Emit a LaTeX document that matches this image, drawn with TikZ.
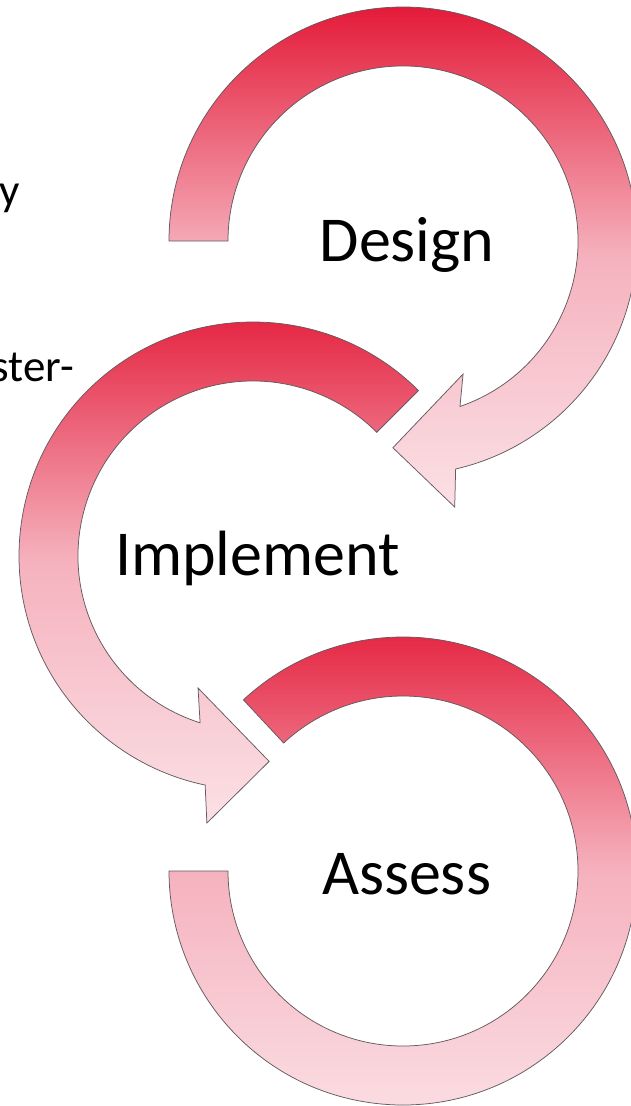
\documentclass[tikz,border=0pt]{standalone}
\usepackage{fontspec}
\setmainfont{Carlito}
\usetikzlibrary{calc}

% palette of the circular arrows
\definecolor{redtop}{RGB}{228,27,57}
\definecolor{pinkmid}{RGB}{245,178,190}
\definecolor{pinklow}{RGB}{251,224,229}
\definecolor{rim}{RGB}{100,90,95}

% vertical fade: dark red at the top of each band, pale pink at its foot
\pgfdeclareverticalshading{cyclefade}{100bp}{%
  color(0bp)=(pinklow); color(25bp)=(pinklow); color(50bp)=(pinkmid);
  color(75bp)=(redtop); color(100bp)=(redtop)}

\tikzset{
  band/.style={shade, shading=cyclefade, draw=rim, line width=0.75pt, line join=miter},
  stagelabel/.style={font=\fontsize{64}{70}\selectfont, inner sep=0pt, anchor=base},
  margintext/.style={font=\fontsize{45}{50}\selectfont, inner sep=0pt},
}

\begin{document}
\begin{tikzpicture}[x=1pt,y=1pt]
\useasboundingbox (0,0) rectangle (631,-1106);
\clip (0,0) rectangle (631,-1106);

% centres of the three rings
\coordinate (cD) at (403,-241);
\coordinate (cI) at (253,-556);
\coordinate (cA) at (403,-871);

% Design: clockwise from the left, head pointing down-left
\path[band] ($(cD)+(180:234pt)$) arc[start angle=180, end angle=-77, radius=234pt]
  -- ($(cD)+(-79:271pt)$) -- ($(cD)+(-92.8:207pt)$) -- ($(cD)+(-65.7:146pt)$)
  -- ($(cD)+(-71:175pt)$) arc[start angle=-71, end angle=180, radius=175pt] -- cycle;

% Implement: anticlockwise from the upper right, head pointing down-right
\path[band] ($(cI)+(45:234pt)$) arc[start angle=45, end angle=258.2, radius=234pt]
  -- ($(cI)+(260.2:271pt)$) -- ($(cI)+(274.5:206pt)$) -- ($(cI)+(247.4:143pt)$)
  -- ($(cI)+(252.4:175pt)$) arc[start angle=252.4, end angle=45, radius=175pt] -- cycle;

% Assess: plain ring segment, no head
\path[band] ($(cA)+(133:234pt)$) arc[start angle=133, end angle=-180, radius=234pt]
  -- ($(cA)+(180:175pt)$) arc[start angle=-180, end angle=133, radius=175pt] -- cycle;

% stage names
\node[stagelabel] (design) at (407,-261) {Design};
\node[stagelabel] (implement) at (257.5,-575) {Implement};
\node[stagelabel] (assess) at (406.5,-894) {Assess};

% line ends of the text running in from the left
\node[margintext, anchor=base east] (fragy) at (20,-205) {y};
\node[margintext, anchor=base east] (fragster) at (74,-381) {ster-};
\end{tikzpicture}
\end{document}
